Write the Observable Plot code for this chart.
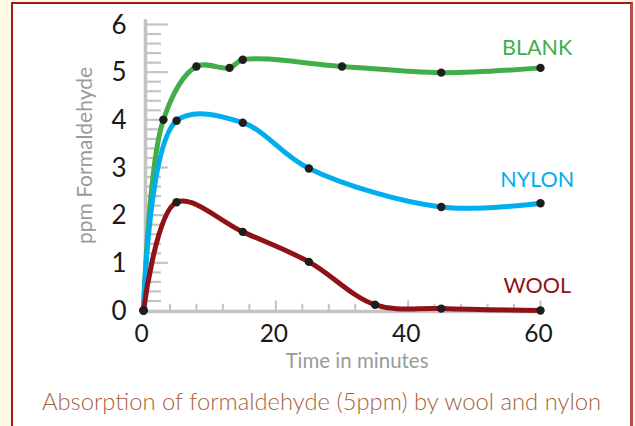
<!DOCTYPE html>
<html>
<head>
<meta charset="utf-8">
<script src="https://cdn.jsdelivr.net/npm/d3@7"></script>
<script src="https://cdn.jsdelivr.net/npm/@observablehq/plot@0.6"></script>
<style>
  html, body { margin: 0; padding: 0; }
  body { width: 635px; height: 426px; background: #fffbe3; position: relative; overflow: hidden; font-family: Lato, "Open Sans", sans-serif; }
  #box { position: absolute; left: 11px; top: 2px; width: 617px; height: 450px; background: #fff;
         border-left: 2.5px solid #a3161d; border-top: 2.5px solid #a3161d; border-right: 3px solid #b5504f; }
  #chart { position: absolute; left: 0; top: 0; }
  #caption { position: absolute; left: 13px; width: 617px; top: 387px; text-align: center;
             font-family: Lato, sans-serif; font-weight: 300; font-size: 23.8px; color: #a8623c; }
</style>
</head>
<body>
<div id="box"></div>
<div id="chart"></div>
<div id="caption">Absorption of formaldehyde (5ppm) by wool and nylon</div>
<script>
// Data
const blankTime = [0, 3, 8, 13, 15, 30, 45, 60];
const blankPpm  = [0, 4.0, 5.12, 5.09, 5.26, 5.12, 4.99, 5.09];
const nylonTime = [0, 5, 15, 25, 45, 60];
const nylonPpm  = [0, 3.98, 3.94, 2.98, 2.17, 2.25];
const woolTime  = [0, 5, 15, 25, 35, 45, 60];
const woolPpm   = [0, 2.27, 1.65, 1.02, 0.12, 0.04, 0];

const seriesNames  = ["BLANK", "NYLON", "WOOL"];
const seriesColors = ["#43ad4a", "#00aeef", "#8e1217"];
const seriesLabelY = [5.5, 2.73, 0.52];

const yTickLabels = [0, 1, 2, 3, 4, 5, 6];
const yMinorTicks = [0.2,0.4,0.6,0.8,1.2,1.4,1.6,1.8,2.2,2.4,2.6,2.8,3.2,3.4,3.6,3.8,4.2,4.4,4.6,4.8,5.2,5.4,5.6,5.8];
const yMajorTicks = [1, 2, 3, 4, 5, 6];
const xTickLabels = [0, 20, 40, 60];
const xMinorTicks = [4, 8, 12, 16, 24, 28, 32, 36, 44, 48, 52, 56];
const xMajorTicks = [20, 40, 60];

const mk = (name, T, V) => T.map((t, i) => ({series: name, time: t, ppm: V[i]}));
const rows = [
  ...mk("BLANK", blankTime, blankPpm),
  ...mk("NYLON", nylonTime, nylonPpm),
  ...mk("WOOL", woolTime, woolPpm)
];
const labels = seriesNames.map((s, i) => ({series: s, y: seriesLabelY[i]}));

const gray = "#c3c3c3";
const chart = Plot.plot({
  width: 635,
  height: 380,
  marginLeft: 143,
  marginRight: 95,
  marginTop: 24,
  marginBottom: 70,
  style: {background: "transparent", overflow: "visible", fontFamily: "Lato, sans-serif"},
  x: {domain: [0, 60], axis: null},
  y: {domain: [0, 6], axis: null},
  color: {domain: seriesNames, range: seriesColors},
  marks: [
    // y axis
    Plot.ruleY(yMinorTicks, {x1: 0, x2: 2.55, stroke: gray, strokeWidth: 2.2, dx: 1}),
    Plot.ruleY(yMajorTicks, {x1: 0, x2: 3.6, stroke: gray, strokeWidth: 2.2, dx: 1}),
    Plot.ruleX([0], {y1: 0, y2: 6.1, stroke: gray, strokeWidth: 3.5, dx: 2}),
    // x axis
    Plot.ruleX(xMinorTicks, {y1: 0, y2: 0.13, stroke: gray, strokeWidth: 2}),
    Plot.ruleX(xMajorTicks, {y1: 0, y2: 0.2, stroke: gray, strokeWidth: 2}),
    Plot.ruleY([0], {x1: 0, x2: 60, stroke: gray, strokeWidth: 3.5, dy: 1}),
    // tick labels
    Plot.text(yTickLabels, {x: 0, y: d => d, text: d => String(d), textAnchor: "end", dx: -17, dy: 1,
      fontSize: 26, fill: "#1a1a1a"}),
    Plot.text(xTickLabels, {x: d => d, y: 0, text: d => String(d), dy: 24, dx: -2,
      fontSize: 24.5, fill: "#1a1a1a"}),
    // axis titles
    Plot.text(["ppm Formaldehyde"], {frameAnchor: "left", textAnchor: "middle", text: d => d, rotate: -90,
      dx: -58, dy: -12, fontSize: 21, fill: "#9a9a9a"}),
    Plot.text(["Time in minutes"], {frameAnchor: "bottom", textAnchor: "middle", text: d => d, dx: 15, dy: 57,
      fontSize: 20.5, fill: "#9a9a9a"}),
    // lines
    Plot.line(rows, {x: "time", y: "ppm", z: "series", stroke: "series", strokeWidth: 5,
      curve: "catmull-rom"}),
    Plot.dot(rows, {x: "time", y: "ppm", r: 4.2, fill: "#1e1e1e"}),
    // series labels
    Plot.text(labels, {x: 59.5, y: "y", text: "series", fill: "series", fontSize: 21.5})
  ]
});
document.getElementById("chart").appendChild(chart);
</script>
</body>
</html>
